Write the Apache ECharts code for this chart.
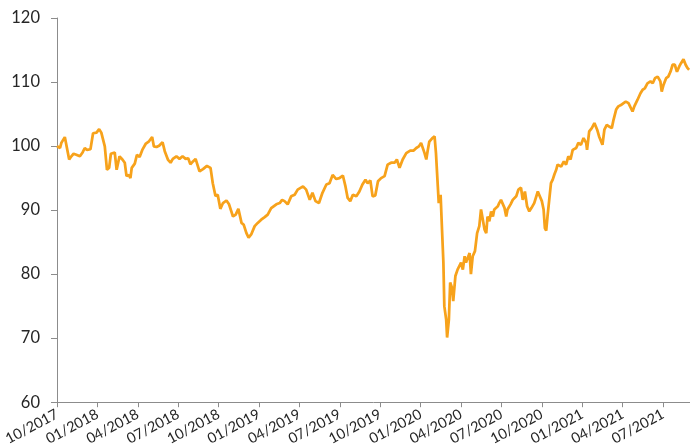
<!DOCTYPE html>
<html>
<head>
<meta charset="utf-8">
<script src="https://cdn.jsdelivr.net/npm/echarts@6/dist/echarts.min.js"></script>
<style>
html,body{margin:0;padding:0;background:#fff;}
#chart{width:690px;height:448px;}
</style>
</head>
<body>
<div id="chart"></div>
<script>
const dates = [
'2017-10-01','2017-10-08','2017-10-11','2017-10-19','2017-10-23','2017-10-29','2017-11-03','2017-11-08','2017-11-14','2017-11-22','2017-11-28',
'2017-12-03','2017-12-08','2017-12-16','2017-12-22','2017-12-30','2018-01-05','2018-01-10','2018-01-18','2018-01-23','2018-01-28',
'2018-02-01','2018-02-05','2018-02-09','2018-02-13','2018-02-16','2018-02-19','2018-02-25','2018-03-02','2018-03-06','2018-03-11',
'2018-03-15','2018-03-18','2018-03-25','2018-03-30','2018-04-05','2018-04-11','2018-04-19','2018-04-26','2018-05-03','2018-05-07',
'2018-05-13','2018-05-19','2018-05-27','2018-06-01','2018-06-08','2018-06-14','2018-06-19','2018-06-27','2018-07-04','2018-07-11',
'2018-07-18','2018-07-24','2018-07-29','2018-08-04','2018-08-10','2018-08-19','2018-08-27','2018-09-05','2018-09-13','2018-09-18',
'2018-09-24','2018-09-29','2018-10-05','2018-10-11','2018-10-19','2018-10-25','2018-11-03','2018-11-09','2018-11-15','2018-11-22',
'2018-11-27','2018-12-03','2018-12-08','2018-12-14','2018-12-22','2018-12-29','2019-01-06','2019-01-14','2019-01-21','2019-01-29',
'2019-02-09','2019-02-16','2019-02-21','2019-02-26','2019-03-05','2019-03-13','2019-03-21','2019-03-28','2019-04-09','2019-04-16',
'2019-04-24','2019-04-30','2019-05-07','2019-05-15','2019-05-23','2019-06-01','2019-06-08','2019-06-15','2019-06-23','2019-06-30',
'2019-07-08','2019-07-14','2019-07-19','2019-07-25','2019-07-31','2019-08-08','2019-08-15','2019-08-22','2019-08-29','2019-09-03',
'2019-09-09','2019-09-14','2019-09-20','2019-09-26','2019-10-03','2019-10-11','2019-10-18','2019-10-26','2019-11-03','2019-11-08',
'2019-11-14','2019-11-21','2019-11-29','2019-12-08','2019-12-16','2019-12-22','2019-12-28','2020-01-02','2020-01-10','2020-01-14',
'2020-01-17','2020-01-21','2020-01-28','2020-02-02','2020-02-05','2020-02-09','2020-02-11','2020-02-15','2020-02-18','2020-02-21',
'2020-02-23','2020-02-27','2020-02-29','2020-03-04','2020-03-07','2020-03-11','2020-03-14','2020-03-19','2020-03-24','2020-03-28',
'2020-04-01','2020-04-05','2020-04-09','2020-04-12','2020-04-16','2020-04-20','2020-04-23','2020-04-27','2020-05-02','2020-05-07',
'2020-05-12','2020-05-16','2020-05-20','2020-05-24','2020-05-28','2020-05-31','2020-06-04','2020-06-08','2020-06-12','2020-06-15',
'2020-06-19','2020-06-23','2020-06-26','2020-06-30','2020-07-04','2020-07-08','2020-07-12','2020-07-15','2020-07-22','2020-07-27',
'2020-07-31','2020-08-04','2020-08-09','2020-08-15','2020-08-19','2020-08-24','2020-08-29','2020-09-03','2020-09-08','2020-09-14',
'2020-09-22','2020-09-25','2020-10-01','2020-10-05','2020-10-08','2020-10-11','2020-10-14','2020-10-18','2020-10-22','2020-10-26',
'2020-10-30','2020-11-03','2020-11-06','2020-11-14','2020-11-20','2020-11-25','2020-11-30','2020-12-05','2020-12-10','2020-12-18',
'2020-12-23','2020-12-29','2021-01-04','2021-01-10','2021-01-12','2021-01-17','2021-01-23','2021-01-29','2021-02-04','2021-02-08',
'2021-02-12','2021-02-15','2021-02-19','2021-02-24','2021-03-01','2021-03-07','2021-03-11','2021-03-17','2021-03-22','2021-03-28',
'2021-04-03','2021-04-08','2021-04-14','2021-04-18','2021-04-23','2021-04-27','2021-05-01','2021-05-04','2021-05-11','2021-05-16',
'2021-05-21','2021-05-27','2021-06-03','2021-06-08','2021-06-13','2021-06-19','2021-06-25','2021-06-28','2021-07-02','2021-07-08',
'2021-07-13','2021-07-18','2021-07-23','2021-07-28','2021-08-02','2021-08-07','2021-08-11','2021-08-17','2021-08-22','2021-08-26',
'2021-08-30'
];
const values = [
100.0,99.7,100.5,101.4,101.5,97.9,98.4,98.8,98.65,98.4,99.0,
99.7,99.4,99.5,102.0,102.1,102.65,102.1,99.95,96.3,96.6,
98.8,99.0,99.0,96.3,96.2,98.4,97.9,97.4,95.3,95.5,
95.0,96.6,97.25,98.65,98.3,99.4,100.4,100.75,101.4,99.95,
99.85,100.05,100.6,99.2,97.9,97.4,98.0,98.4,98.0,98.4,
98.0,98.1,97.15,97.6,98.0,96.05,96.4,96.9,96.6,94.2,
92.2,92.4,90.2,91.1,91.5,90.9,89.0,89.3,90.2,88.0,
87.7,86.4,85.7,86.2,87.5,88.0,88.5,88.9,89.3,90.3,
90.9,91.1,91.6,91.4,90.9,92.15,92.4,93.2,93.7,93.2,
91.6,92.7,91.4,91.1,92.7,94.0,94.2,95.5,94.85,95.0,
95.4,93.7,91.9,91.4,92.4,92.15,92.9,94.0,94.75,94.2,
94.65,92.15,92.3,94.5,95.0,95.3,97.1,97.4,97.4,97.9,
96.6,97.9,98.9,99.3,99.3,99.7,99.95,100.5,98.9,97.9,
99.2,100.7,101.25,101.5,98.9,93.7,91.1,92.4,87.0,81.8,
75.0,72.9,70.1,72.9,78.7,77.9,75.8,79.7,80.7,80.5,
81.8,80.7,82.8,81.8,81.5,83.3,80.0,82.8,83.6,86.4,
87.5,90.1,90.2,87.0,86.4,89.0,88.25,89.8,89.0,90.1,
90.35,90.6,91.1,91.6,91.6,90.35,89.0,90.1,90.9,91.6,
91.4,92.15,93.2,93.5,91.6,92.9,90.6,89.8,90.35,91.1,
92.9,92.4,91.4,90.1,87.2,86.8,89.0,91.6,94.2,94.75,
95.6,96.3,97.1,96.8,97.6,97.1,98.4,97.9,99.4,99.7,
100.5,100.2,101.25,100.5,99.4,102.3,102.8,103.6,102.55,101.5,
101.25,100.2,102.55,103.3,103.05,102.8,104.1,105.7,106.2,106.4,
106.7,106.95,106.7,106.95,105.4,106.2,105.9,107.2,108.25,108.8,
109.0,109.8,110.1,109.8,110.6,110.85,110.1,108.5,109.55,110.6,
110.85,111.6,112.7,112.7,111.6,112.4,112.9,113.55,112.7,112.2,
111.9
];
const axisStart = '2017-10-01';   // first month on the x axis
const axisEnd = '2021-09-01';     // end of the x axis
const yTicks = [60, 70, 80, 90, 100, 110, 120];

function monthIndex(s) {
  const [y, m, d] = s.split('-').map(Number);
  const [y0, m0] = axisStart.split('-').map(Number);
  const dim = new Date(Date.UTC(y, m, 0)).getUTCDate();
  return (y - y0) * 12 + (m - m0) + (d - 1) / dim;
}
function monthLabel(v) {
  if (Math.abs(v % 3) > 1e-6) return '';
  const [y0, m0] = axisStart.split('-').map(Number);
  const t = m0 - 1 + v;
  const y = y0 + Math.floor(t / 12);
  const m = (t % 12) + 1;
  return (m < 10 ? '0' : '') + m + '/' + y;
}

const seriesData = dates.map((d, i) => [monthIndex(d), values[i]]);

const chart = echarts.init(document.getElementById('chart'), null, {renderer: 'canvas'});
chart.setOption({
  animation: false,
  backgroundColor: '#ffffff',
  grid: {left: 57, right: 0, top: 18, bottom: 45, containLabel: false},
  xAxis: {
    type: 'value',
    min: 0,
    max: monthIndex(axisEnd),
    interval: 3,
    axisLine: {show: true, onZero: false, lineStyle: {color: '#8c8c8c', width: 1}},
    axisTick: {show: true, length: 5, lineStyle: {color: '#8c8c8c'}},
    splitLine: {show: false},
    axisLabel: {
      formatter: monthLabel,
      rotate: 28,
      margin: 11,
      showMaxLabel: false,
      color: '#262626',
      fontFamily: 'Lato',
      fontSize: 14.5
    }
  },
  yAxis: {
    type: 'value',
    min: yTicks[0],
    max: yTicks[yTicks.length - 1],
    interval: 10,
    axisLine: {show: true, lineStyle: {color: '#8c8c8c', width: 1}},
    axisTick: {show: true, length: 6, lineStyle: {color: '#8c8c8c'}},
    splitLine: {show: false},
    axisLabel: {
      margin: 17,
      color: '#262626',
      fontFamily: 'Lato',
      fontSize: 16.5
    }
  },
  series: [{
    type: 'line',
    data: seriesData,
    showSymbol: false,
    smooth: false,
    lineStyle: {color: '#F7A21B', width: 2.75},
    itemStyle: {color: '#F7A21B'}
  }]
});
</script>
</body>
</html>
